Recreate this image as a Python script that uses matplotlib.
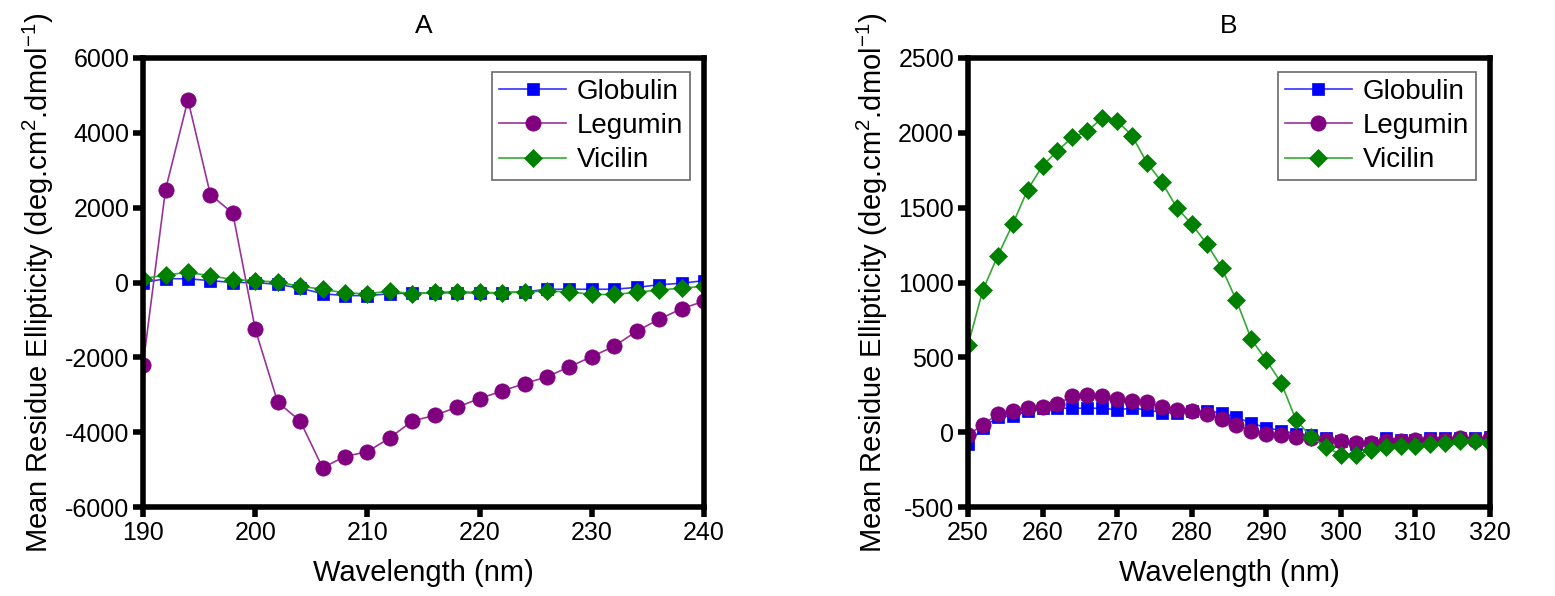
import numpy as np
import matplotlib
matplotlib.use("Agg")
import matplotlib.pyplot as plt

plt.rcParams['font.family'] = ['Liberation Sans', 'DejaVu Sans']
plt.rcParams['mathtext.fontset'] = 'custom'
plt.rcParams['mathtext.rm'] = 'Liberation Sans'
plt.rcParams['mathtext.it'] = 'Liberation Sans'
plt.rcParams['axes.unicode_minus'] = False

# ── Panel A: far-UV (190-240 nm) ──
wl_a = np.arange(190, 241, 2)
globulin_a = [0, 100, 100, 50, 0, 0, -50, -150, -300, -350, -350, -300, -280,
              -280, -270, -280, -270, -250, -180, -180, -180, -180, -130, -60, -20, 50]
legumin_a = [-2200, 2480, 4880, 2350, 1850, -1250, -3200, -3700, -4950, -4650,
             -4520, -4150, -3700, -3550, -3330, -3100, -2900, -2700, -2520, -2250,
             -1980, -1700, -1300, -980, -700, -500]
vicilin_a = [100, 200, 270, 180, 80, 50, 10, -100, -180, -280, -300, -230, -300,
             -260, -250, -260, -280, -250, -230, -250, -320, -320, -260, -200, -150, -100]

# ── Panel B: near-UV (250-320 nm) ──
wl_b = np.arange(250, 321, 2)
globulin_b = [-80, 30, 100, 110, 140, 160, 160, 160, 160, 160, 150, 160, 150, 130,
              130, 140, 140, 130, 100, 60, 30, 10, -10, -20, -40, -60, -80, -70,
              -40, -50, -50, -40, -40, -40, -40, -30]
legumin_b = [-20, 50, 120, 140, 160, 170, 190, 240, 250, 240, 220, 210, 200, 170,
             150, 140, 120, 90, 50, 10, -10, -20, -30, -40, -50, -60, -70, -70,
             -60, -60, -50, -50, -50, -40, -50, -40]
vicilin_b = [580, 950, 1180, 1390, 1620, 1780, 1880, 1970, 2010, 2100, 2080, 1980,
             1800, 1670, 1500, 1390, 1260, 1100, 880, 620, 480, 330, 80, -30, -100,
             -150, -150, -120, -100, -90, -90, -80, -70, -60, -60, -70]

labels = ['Globulin', 'Legumin', 'Vicilin']
markers = ['s', 'o', 'D']
mcolors = ['#0000ff', '#800080', '#008000']
lcolors = ['#3333ff', '#993399', '#33aa33']
msizes = [9, 11, 9.5]

ylabel = r'Mean Residue Ellipticity (deg.cm$^{2}$.dmol$^{\mathrm{-1}}$)'

fig = plt.figure(figsize=(15.55, 5.96), dpi=100)
ax_a = fig.add_axes([0.092, 0.1493, 0.3608, 0.7534])
ax_b = fig.add_axes([0.6225, 0.1493, 0.3357, 0.7534])


def draw(ax, wl, series, title, xlim, xticks, ylim, yticks):
    for ys, lab, m, mc, lc, ms in zip(series, labels, markers, mcolors, lcolors, msizes):
        ax.plot(wl, ys, color=lc, linewidth=1.2, marker=m, markersize=ms,
                markerfacecolor=mc, markeredgecolor=mc, markeredgewidth=0.5, label=lab)
    ax.set_xlim(*xlim)
    ax.set_ylim(*ylim)
    ax.set_xticks(xticks)
    ax.set_yticks(yticks)
    for s in ax.spines.values():
        s.set_linewidth(4)
    ax.tick_params(direction='out', length=7, width=4, labelsize=18, pad=3)
    ax.set_xlabel('Wavelength (nm)', fontsize=21, labelpad=10)
    ax.set_ylabel(ylabel, fontsize=21, labelpad=6)
    ax.set_title(title, fontsize=19, pad=18)
    leg = ax.legend(loc='upper right', fontsize=20, frameon=True, fancybox=False,
                    edgecolor='#444444', handlelength=2.4, borderpad=0.25,
                    labelspacing=0.3, handletextpad=0.4, borderaxespad=0.5)
    leg.get_frame().set_linewidth(1.2)


draw(ax_a, wl_a, [globulin_a, legumin_a, vicilin_a], 'A', (190, 240),
     np.arange(190, 241, 10), (-6000, 6000), np.arange(-6000, 6001, 2000))
draw(ax_b, wl_b, [globulin_b, legumin_b, vicilin_b], 'B', (250, 320),
     np.arange(250, 321, 10), (-500, 2500), np.arange(-500, 2501, 500))

fig.savefig('out.png', dpi=100)
